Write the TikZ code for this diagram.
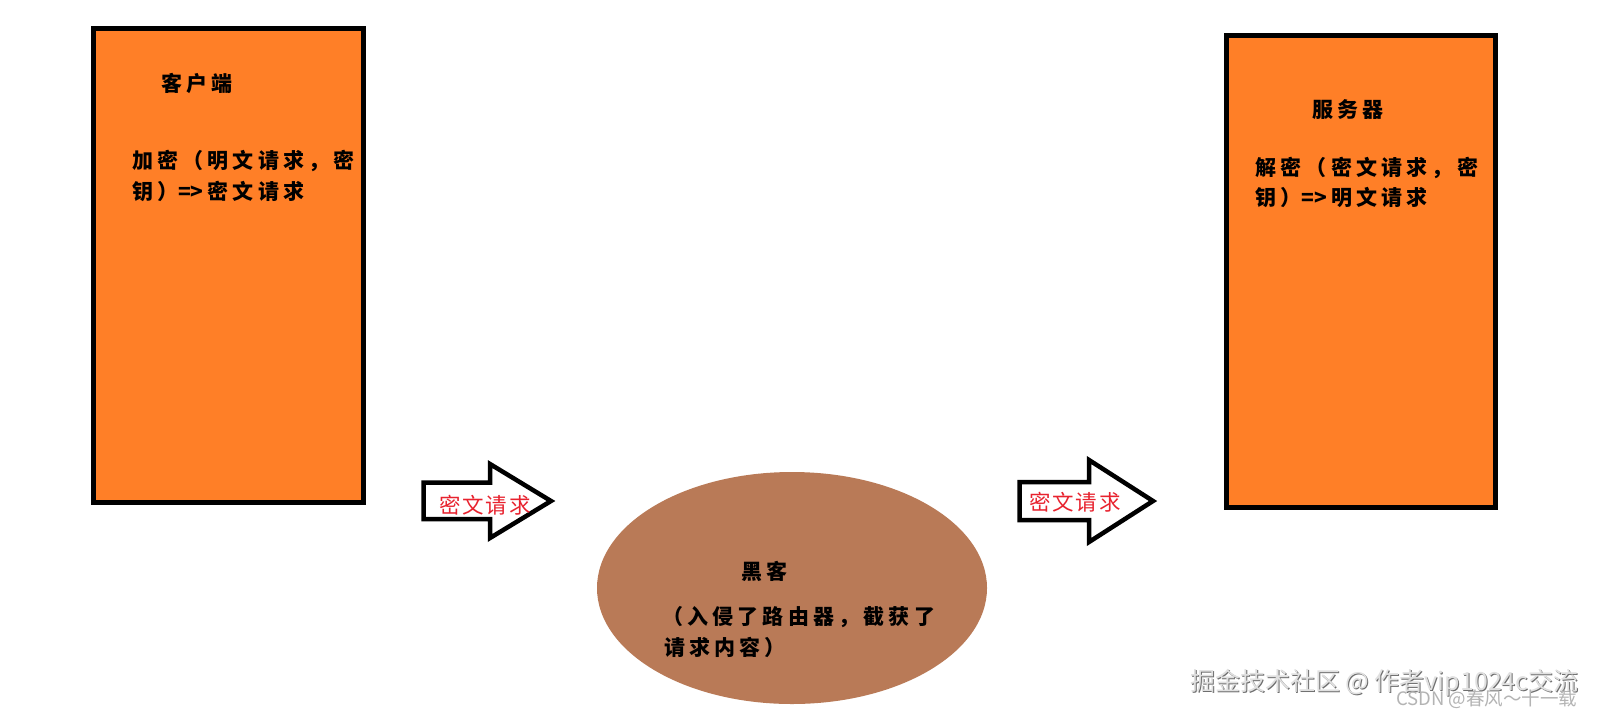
\documentclass[tikz,border=0pt]{standalone}
\usepackage{fontspec}
\setmainfont{Noto Sans CJK SC}
\newfontfamily\cjkb{Noto Sans CJK SC}[LetterSpace=20]
\newfontfamily\cjkr{Noto Sans CJK SC}[LetterSpace=9]
\newfontfamily\wmfont{Noto Sans CJK SC}
\newcommand{\tightarrow}{{\addfontfeature{LetterSpace=0}=>}\hspace{4pt}}
\definecolor{paintorange}{HTML}{FF7F27}
\definecolor{paintbrown}{HTML}{B97A57}
\definecolor{paintred}{HTML}{E8222E}
\definecolor{wmgray}{HTML}{B4B4B4}
\definecolor{wmdark}{HTML}{6E6E6E}
\begin{document}
\begin{tikzpicture}[x=1pt,y=-1pt,
  boxframe/.style={draw=black,line width=5pt,fill=paintorange},
  blockarrow/.style={draw=black,line width=4.5pt,fill=white,line join=miter},
  txt/.style={inner sep=0pt,outer sep=0pt,anchor=base west,font=\cjkb\bfseries\fontsize{21}{24}\selectfont},
  redtxt/.style={inner sep=0pt,outer sep=0pt,anchor=base west,text=paintred,font=\cjkr\fontsize{21.5}{24}\selectfont},
  wmbig/.style={inner sep=0pt,outer sep=0pt,anchor=base west,font=\wmfont\fontsize{25}{28}\selectfont},
  wmsmall/.style={inner sep=0pt,outer sep=0pt,anchor=base west,text=wmgray,font=\wmfont\fontsize{18.5}{20}\selectfont}]
\fill[white] (0,0) rectangle (1601,716);
\useasboundingbox (0,0) rectangle (1601,716);

% client and server boxes
\draw[boxframe] (93.5,28.5) rectangle (363.5,502);
\draw[boxframe] (1226,35.5) rectangle (1495,507.5);

% hacker ellipse
\fill[paintbrown] (792,588) ellipse [x radius=195, y radius=116];

% block arrows
\draw[blockarrow] (423.5,482.5) -- (490,482.5) -- (490,464) -- (551,501) -- (490,538) -- (490,519) -- (423.5,519) -- cycle;
\draw[blockarrow] (1019.5,482) -- (1089,482) -- (1089,460) -- (1153,501) -- (1089,542) -- (1089,520) -- (1019.5,520) -- cycle;

% client texts
\node[txt] (ctitle) at (161,91.5) {客户端};
\node[txt] (cline1) at (132,168) {加密（明文请求，密};
\node[txt] (cline2) at (132,199.5) {钥）\tightarrow 密文请求};

% server texts
\node[txt] (stitle) at (1312,117.5) {服务器};
\node[txt] (sline1) at (1255.5,175.5) {解密（密文请求，密};
\node[txt] (sline2) at (1255.5,205.5) {钥）\tightarrow 明文请求};

% hacker texts
\node[txt] (htitle) at (741,579.5) {黑客};
\node[txt] (hline1) at (662,624.5) {（入侵了路由器，截获了};
\node[txt] (hline2) at (664,655.5) {请求内容）};

% arrow labels
\node[redtxt] (alabel1) at (439,513.5) {密文请求};
\node[redtxt] (alabel2) at (1029,510.5) {密文请求};

% watermarks
\node[wmbig,text=wmdark] (wm1s) at (1191,691) {掘金技术社区 @ 作者vip1024c交流};
\node[wmbig,text=white!88!black] (wm1) at (1190,690) {掘金技术社区 @ 作者vip1024c交流};
\node[wmsmall] (wm2) at (1396,705.5) {CSDN @春风～十一载};
\end{tikzpicture}
\end{document}
